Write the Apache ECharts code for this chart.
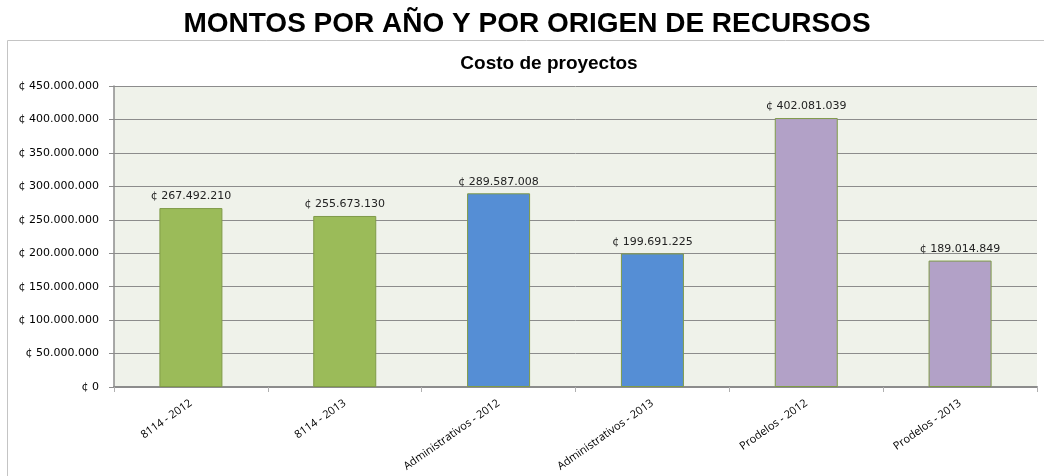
<!DOCTYPE html>
<html>
<head>
<meta charset="utf-8">
<script src="https://cdn.jsdelivr.net/npm/echarts@6/dist/echarts.min.js"></script>
<style>
  html, body { margin: 0; padding: 0; background: #fff; }
  #main { width: 1044px; height: 476px; }
</style>
</head>
<body>
<div id="main"></div>
<script>
const categories = ['8114 - 2012', '8114 - 2013', 'Administrativos - 2012', 'Administrativos - 2013', 'Prodelos - 2012', 'Prodelos - 2013'];
const montos = [267492210, 255673130, 289587008, 199691225, 402081039, 189014849];
const barColors = ['#9BBB59', '#9BBB59', '#558ED5', '#558ED5', '#B2A1C7', '#B2A1C7'];

// formato con punto de miles y símbolo de colón
function colones(v) {
  const s = String(Math.round(v)).replace(/\B(?=(\d{3})+(?!\d))/g, '.');
  return '¢ ' + s;
}

const chart = echarts.init(document.getElementById('main'));

chart.setOption({
  animation: false,
  title: [
    {
      text: 'MONTOS POR AÑO Y POR ORIGEN DE RECURSOS',
      left: 522, top: 5, textAlign: 'center',
      textStyle: { fontFamily: 'Liberation Sans', fontSize: 28, fontWeight: 'bold', color: '#000' }
    },
    {
      text: 'Costo de proyectos',
      left: 544, top: 49, textAlign: 'center',
      textStyle: { fontFamily: 'Liberation Sans', fontSize: 19, fontWeight: 'bold', color: '#000' }
    }
  ],
  graphic: [
    {
      type: 'rect', z: -1,
      shape: { x: 7.5, y: 40.5, width: 1040, height: 450 },
      style: { fill: 'none', stroke: '#c4c4c4', lineWidth: 1 }
    }
  ],
  grid: {
    left: 114, right: 7, top: 86, bottom: 89,
    show: true, backgroundColor: '#EFF2EA', borderWidth: 0
  },
  xAxis: {
    type: 'category',
    data: categories,
    axisLine: { lineStyle: { color: '#8c8c8c', width: 2 } },
    axisTick: { show: true, alignWithLabel: false, length: 5, lineStyle: { color: '#b0b0b0' } },
    axisLabel: {
      interval: 0, rotate: 35, margin: 15,
      fontFamily: 'Open Sans', fontSize: 11, color: '#000'
    }
  },
  yAxis: {
    type: 'value',
    min: 0, max: 450000000, interval: 50000000,
    axisLine: { show: true, lineStyle: { color: '#8c8c8c', width: 1.5 } },
    axisTick: { show: true, length: 5, lineStyle: { color: '#8c8c8c' } },
    splitLine: { lineStyle: { color: '#8c8c8c', width: 1 } },
    axisLabel: {
      formatter: colones, margin: 15,
      fontFamily: 'DejaVu Sans', fontSize: 11, color: '#000'
    }
  },
  series: [
    {
      type: 'bar',
      data: montos.map((v, i) => ({ value: v, itemStyle: { color: barColors[i] } })),
      barWidth: 63,
      itemStyle: { borderColor: '#7F9A48', borderWidth: 1 },
      label: {
        show: true, position: 'top', distance: 6,
        formatter: p => colones(p.value),
        fontFamily: 'DejaVu Sans', fontSize: 11, color: '#222'
      }
    }
  ]
});
</script>
</body>
</html>
